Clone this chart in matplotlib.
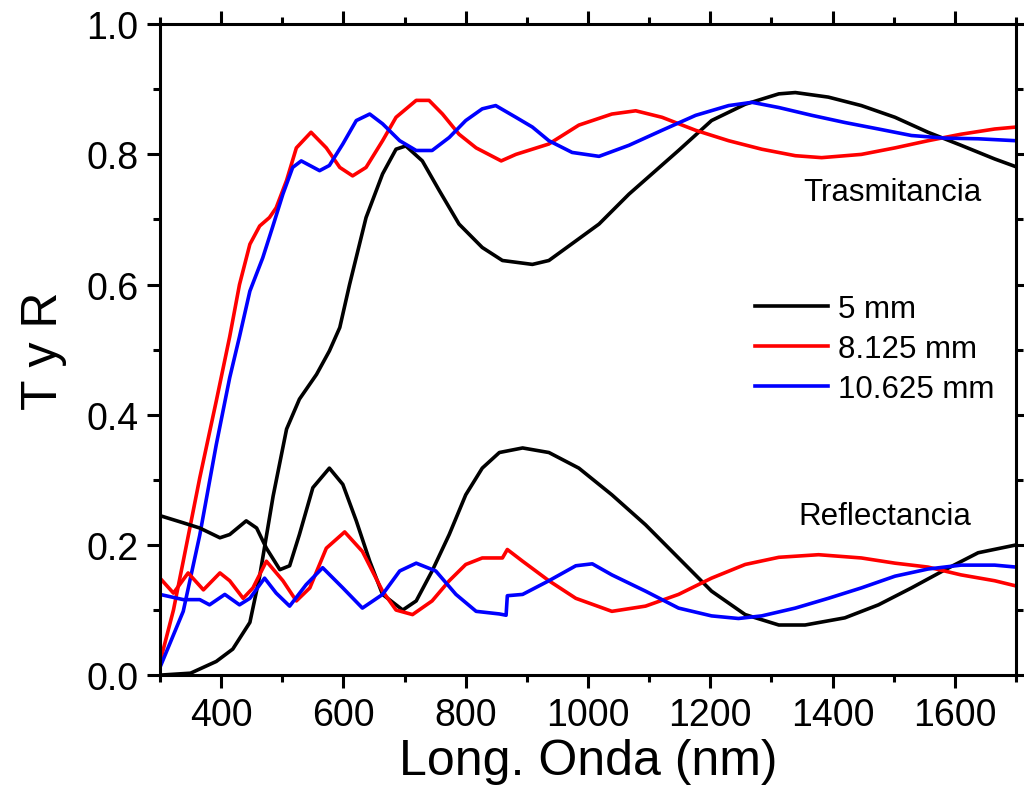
import matplotlib
matplotlib.use('Agg')
import matplotlib.pyplot as plt
from matplotlib.ticker import MultipleLocator, FormatStrFormatter

plt.rcParams['font.family'] = ['Liberation Sans', 'DejaVu Sans']

# espesores / series
labels = ['5 mm', '8.125 mm', '10.625 mm']
colors = ['black', 'red', 'blue']

# Trasmitancia
wl_t5 = [300, 350, 392, 419, 447, 463, 485, 507, 528, 556, 577, 594, 610, 637, 664, 686,
         702, 729, 757, 789, 827, 860, 909, 936, 980, 1018, 1067, 1148, 1202, 1257, 1312,
         1339, 1393, 1447, 1502, 1556, 1610, 1665, 1700]
t5 = [0.0, 0.003, 0.021, 0.04, 0.081, 0.152, 0.275, 0.378, 0.424, 0.462, 0.498, 0.534, 0.6,
      0.703, 0.77, 0.808, 0.813, 0.79, 0.744, 0.693, 0.657, 0.637, 0.631, 0.637, 0.667,
      0.693, 0.739, 0.806, 0.852, 0.877, 0.893, 0.895, 0.888, 0.875, 0.857, 0.834, 0.814,
      0.793, 0.781]

wl_t8 = [300, 322, 338, 365, 392, 414, 430, 447, 463, 479, 490, 507, 523, 547, 572, 594,
         615, 637, 664, 686, 719, 740, 762, 789, 817, 858, 882, 936, 985, 1039, 1078, 1121,
         1176, 1230, 1284, 1339, 1382, 1447, 1502, 1556, 1610, 1665, 1700]
t8 = [0.02, 0.1, 0.175, 0.303, 0.421, 0.52, 0.6, 0.662, 0.69, 0.703, 0.718, 0.76, 0.81,
      0.834, 0.81, 0.78, 0.767, 0.78, 0.821, 0.857, 0.883, 0.883, 0.862, 0.831, 0.81,
      0.79, 0.8, 0.816, 0.845, 0.862, 0.867, 0.857, 0.837, 0.821, 0.808, 0.798, 0.795,
      0.8, 0.81, 0.821, 0.831, 0.839, 0.842]

wl_t10 = [300, 338, 365, 392, 414, 430, 447, 468, 484, 501, 517, 531, 561, 577, 599, 621,
          643, 664, 692, 719, 745, 773, 800, 827, 849, 882, 909, 936, 974, 1018, 1067, 1121,
          1176, 1230, 1268, 1312, 1366, 1420, 1475, 1529, 1584, 1638, 1700]
t10 = [0.012, 0.098, 0.215, 0.354, 0.457, 0.52, 0.59, 0.641, 0.688, 0.739, 0.78, 0.79,
       0.775, 0.783, 0.816, 0.852, 0.862, 0.847, 0.821, 0.806, 0.806, 0.826, 0.852, 0.87,
       0.875, 0.857, 0.842, 0.821, 0.803, 0.797, 0.814, 0.837, 0.86, 0.875, 0.88, 0.872,
       0.86, 0.849, 0.839, 0.829, 0.825, 0.824, 0.821]

# Reflectancia
wl_r5 = [300, 338, 365, 398, 414, 441, 458, 474, 496, 512, 528, 550, 577, 599, 621, 643,
         664, 697, 719, 745, 773, 800, 827, 855, 893, 936, 985, 1039, 1094, 1148, 1202,
         1257, 1312, 1355, 1420, 1475, 1529, 1584, 1638, 1700]
r5 = [0.245, 0.234, 0.226, 0.211, 0.216, 0.237, 0.226, 0.195, 0.162, 0.168, 0.216, 0.288,
      0.318, 0.293, 0.237, 0.175, 0.124, 0.1, 0.114, 0.16, 0.216, 0.277, 0.318, 0.342,
      0.349, 0.342, 0.318, 0.277, 0.231, 0.18, 0.129, 0.093, 0.077, 0.077, 0.088, 0.108,
      0.134, 0.162, 0.188, 0.2]

wl_r8 = [300, 322, 346, 371, 398, 414, 436, 452, 474, 501, 523, 545, 572, 602, 631, 664,
         686, 713, 745, 773, 800, 827, 860, 868, 893, 936, 980, 1039, 1094, 1148, 1202,
         1257, 1312, 1377, 1447, 1502, 1556, 1610, 1665, 1700]
r8 = [0.149, 0.126, 0.157, 0.131, 0.157, 0.145, 0.118, 0.134, 0.175, 0.145, 0.114, 0.134,
      0.195, 0.22, 0.19, 0.129, 0.1, 0.093, 0.114, 0.145, 0.17, 0.18, 0.18, 0.193, 0.175,
      0.145, 0.118, 0.098, 0.106, 0.124, 0.149, 0.17, 0.181, 0.185, 0.18, 0.172, 0.166,
      0.154, 0.145, 0.137]

wl_r10 = [300, 338, 365, 381, 406, 430, 447, 471, 490, 512, 539, 566, 599, 631, 664, 692,
          719, 751, 784, 817, 855, 866, 868, 893, 936, 980, 1007, 1039, 1094, 1148, 1202,
          1246, 1284, 1339, 1393, 1447, 1502, 1556, 1610, 1665, 1700]
r10 = [0.124, 0.116, 0.116, 0.108, 0.124, 0.108, 0.118, 0.149, 0.126, 0.106, 0.139, 0.165,
       0.134, 0.103, 0.124, 0.16, 0.172, 0.16, 0.124, 0.098, 0.094, 0.092, 0.122, 0.124,
       0.145, 0.168, 0.171, 0.154, 0.129, 0.103, 0.091, 0.087, 0.091, 0.103, 0.118, 0.134,
       0.152, 0.163, 0.169, 0.169, 0.166]

trans = [(wl_t5, t5), (wl_t8, t8), (wl_t10, t10)]
refl = [(wl_r5, r5), (wl_r8, r8), (wl_r10, r10)]

fig = plt.figure(figsize=(10.24, 8.03), dpi=100)
ax = fig.add_axes([0.15625, 0.158, 0.836, 0.8106])

lw = 2.6
for (x, y), c, lab in zip(trans, colors, labels):
    ax.plot(x, y, color=c, lw=lw, label=lab)
for (x, y), c in zip(refl, colors):
    ax.plot(x, y, color=c, lw=lw)

ax.set_xlim(300, 1700)
ax.set_ylim(0, 1.0)
ax.xaxis.set_major_locator(MultipleLocator(200))
ax.xaxis.set_minor_locator(MultipleLocator(100))
ax.yaxis.set_major_locator(MultipleLocator(0.2))
ax.yaxis.set_minor_locator(MultipleLocator(0.1))
ax.yaxis.set_major_formatter(FormatStrFormatter('%.1f'))

for s in ax.spines.values():
    s.set_linewidth(2.2)
ax.tick_params(which='both', direction='out', top=True, right=True, width=2.2,
               labelsize=27, pad=6)
ax.tick_params(which='major', length=9.5)
ax.tick_params(which='minor', length=5)

ax.set_xlabel('Long. Onda (nm)', fontsize=36, labelpad=4)
ax.set_ylabel('T y R', fontsize=36, labelpad=14)

ax.text(1352, 0.742, 'Trasmitancia', fontsize=22.5, va='center', ha='left')
ax.text(1344, 0.244, 'Reflectancia', fontsize=22.5, va='center', ha='left')

ax.legend(loc='upper left', bbox_to_anchor=(0.695, 0.585), frameon=False, fontsize=22.5,
          handlelength=2.34, handletextpad=0.32, labelspacing=0.31, borderpad=0,
          borderaxespad=0)

fig.savefig('out.png', dpi=100)
